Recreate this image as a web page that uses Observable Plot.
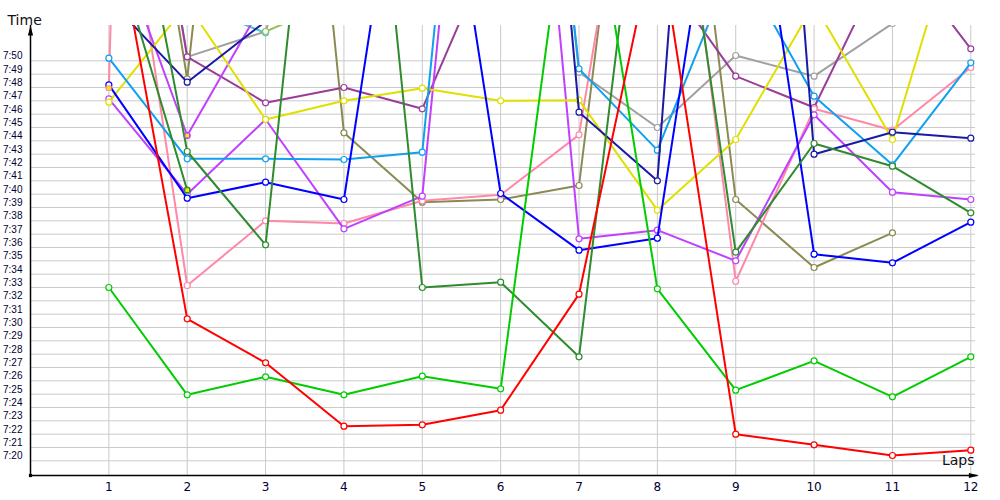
<!DOCTYPE html>
<html><head><meta charset="utf-8">
<script src="https://cdn.jsdelivr.net/npm/d3@7"></script>
<script src="https://cdn.jsdelivr.net/npm/@observablehq/plot@0.6"></script>
<style>body{margin:0;background:#fff} svg{display:block}</style>
</head><body><div id="chart"></div>
<script>
// Lap times as seconds past 7:00 (e.g. 450 = 7:30). Values above ~472.6 are off the top of the chart.
const laps = [1,2,3,4,5,6,7,8,9,10,11,12];
const yTicks = d3.range(440, 471); // 7:20 ... 7:50
const seriesNames = ["gray","olive","teal","lightgreen","purple","pinkA","pinkB","magentaB","magentaA","yellow","lightblue","navy","blue","darkgreenB","darkgreenA","brightgreen","red"];
const seriesColors = ["#a0a0a0","#8a8a52","#3ec8d2","#92c25e","#993d99","#ff88a8","#ff88a8","#c040ff","#c040ff","#e0e000","#10a0f0","#1a1aa6","#0000ff","#2e8b2e","#2e8b2e","#00cc00","#ff0000"];

const gray        = [505.4, 470.3, 472.2, 490, 495, 524, 469.15, 465.0, 470.4, 468.85, 472.8, null];
const olive       = [504.7, 468.65, 522.9, 464.6, 459.4, 459.6, 460.65, 508.1, 459.6, 454.5, 457.1, null];
const teal        = [null, 474.4, 472.1, null, null, null, null, null, null, null, null, null];
const lightgreen  = [null, null, 472.2, 474.7, null, null, null, null, null, null, null, null];
const purple      = [505, 470.3, 466.85, 468.0, 466.4, 480.0, 485, 477.1, 468.85, 466.5, 478.6, 470.9];
const pinkA       = [468.0, 682, null, null, null, null, null, null, null, null, null, null];
const pinkB       = [492.4, 453.15, 458.0, 457.8, 459.5, 459.95, 464.45, 499.6, 453.47, 466.4, 464.8, 469.5];
const magentaB    = [480.5, 464.4, 474.65, null, null, null, null, null, null, null, null, null];
const magentaA    = [467.15, 460.0, 465.6, 457.4, 459.85, 519.4, 456.65, 457.3, 455.0, 465.95, 460.15, 459.6];
const yellow      = [466.9, 474.25, 465.6, 467.0, 467.95, 467.0, 467.05, 458.8, 464.1, 474.26, 464.1, 483.6];
const lightblue   = [470.2, 462.65, 462.65, 462.6, 463.15, 522.7, 469.4, 463.3, 477.8, 467.35, 462.2, 469.85];
const navy        = [474.6, 468.4, 472.96, 490, 505, 531.5, 466.15, 461.0, 539, 463.0, 464.65, 464.2];
const blue        = [468.2, 459.7, 460.9, 459.6, 497.85, 460.05, 455.8, 456.7, 494.85, 455.5, 454.85, 457.9];
const darkgreenB  = [480.0, 460.3, null, null, null, null, null, null, null, null, null, null];
const darkgreenA  = [494, 463.2, 456.2, 511.3, 453.0, 453.4, 447.8, 495.9, 455.65, 463.8, 462.1, 458.6];
const brightgreen = [453.0, 444.95, 446.3, 444.95, 446.35, 445.4, 489.4, 452.9, 445.3, 447.5, 444.8, 447.8];
const red         = [482.9, 450.65, 447.35, 442.6, 442.7, 443.8, 452.5, 480.1, 442.0, 441.2, 440.4, 440.8];

const seriesValues = [gray, olive, teal, lightgreen, purple, pinkA, pinkB, magentaB, magentaA, yellow, lightblue, navy, blue, darkgreenB, darkgreenA, brightgreen, red];

// last recorded points, drawn with a yellow fill
const endSeries = ["pinkA", "magentaB", "darkgreenB"];
const endLaps   = [1, 2, 2];
const endValues = [467.95, 464.4, 460.3];

const xMin = 0, xMax = 12.06, yMin = 438.9, yMax = 472.65;

const marks = [
  Plot.gridY(yTicks, {stroke: "#cacaca", strokeOpacity: 1}),
  Plot.gridX(laps, {stroke: "#cacaca", strokeOpacity: 1})
];

seriesNames.forEach((name, i) => {
  const rows = laps.map((lap, j) => ({lap, v: seriesValues[i][j]})).filter(d => d.v != null);
  marks.push(Plot.line(rows, {x: "lap", y: "v", stroke: seriesColors[i], strokeWidth: 2, clip: true}));
  marks.push(Plot.dot(rows, {x: "lap", y: "v", r: 3, fill: "white", stroke: seriesColors[i], strokeWidth: 1.2, clip: true}));
});

const endRows = endSeries.map((s, i) => ({lap: endLaps[i], v: endValues[i], color: seriesColors[seriesNames.indexOf(s)]}));
marks.push(Plot.dot(endRows, {x: "lap", y: "v", symbol: "square", r: 2.6, fill: "#f0f000", stroke: d => d.color, strokeWidth: 1, clip: true}));

const upArrow = {draw(ctx) { ctx.moveTo(0, -5); ctx.lineTo(2.6, 5); ctx.lineTo(-2.6, 5); ctx.closePath(); }};
const rightArrow = {draw(ctx) { ctx.moveTo(5, 0); ctx.lineTo(-5, 2.6); ctx.lineTo(-5, -2.6); ctx.closePath(); }};

marks.push(
  Plot.ruleX([xMin], {stroke: "black", strokeWidth: 1.5}),
  Plot.ruleY([yMin], {x1: xMin, x2: 12.09, stroke: "black", strokeWidth: 1.5}),
  Plot.dot([{x: xMin, y: yMax}], {x: "x", y: "y", symbol: upArrow, fill: "black", stroke: "none", dy: 5}),
  Plot.dot([{x: 12.09, y: yMin}], {x: "x", y: "y", symbol: rightArrow, fill: "black", stroke: "none", dx: -4}),
  Plot.dot([{x: xMin, y: yMin}], {x: "x", y: "y", symbol: "square", r: 1.8, fill: "black", stroke: "none"}),
  Plot.axisY(yTicks, {tickSize: 0, tickPadding: 8, tickFormat: d => "7:" + d3.format("02")(d - 420), fontSize: 10, fontFamily: "Liberation Sans", fill: "#000033", dy: -4.6, label: null}),
  Plot.axisX(laps, {tickSize: 0, tickPadding: 7, fontSize: 12, fill: "#000033", label: null}),
  Plot.text(["Time"], {frameAnchor: "top-left", textAnchor: "start", dx: -23, dy: -10, fontSize: 14, fill: "#111"}),
  Plot.text(["Laps"], {frameAnchor: "bottom-right", textAnchor: "end", dx: -1, dy: -11, fontSize: 14, fill: "#111"})
);

const chart = Plot.plot({
  width: 1000, height: 500,
  marginLeft: 30, marginRight: 25, marginTop: 25, marginBottom: 25,
  style: {fontFamily: "DejaVu Sans", background: "white", color: "#111"},
  x: {domain: [xMin, xMax]},
  y: {domain: [yMin, yMax]},
  marks
});
document.getElementById("chart").appendChild(chart);
</script>
</body></html>
